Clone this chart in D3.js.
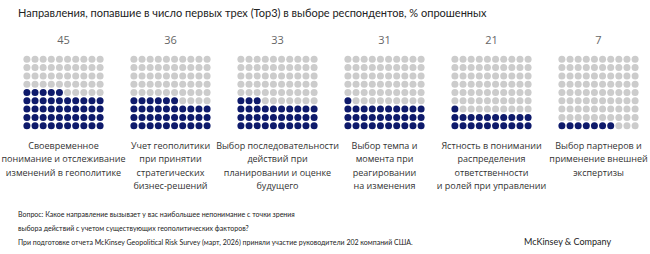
<!DOCTYPE html>
<html>
<head>
<meta charset="utf-8">
<script src="https://cdn.jsdelivr.net/npm/d3@7"></script>
<style>
  body { margin: 0; background: #fff; }
  text { font-family: "Open Sans", "Noto Sans", sans-serif; }
  .narrow { font-family: Lato, "Open Sans", sans-serif; }
</style>
</head>
<body>
<svg id="chart" width="650" height="254"></svg>
<script>
// data
const values = [45, 36, 33, 31, 21, 7];
const labels = [
  ["Своевременное", "понимание и отслеживание", "изменений в геополитике"],
  ["Учет геополитики", "при принятии", "стратегических", "бизнес-решений"],
  ["Выбор последовательности", "действий при", "планировании и оценке", "будущего"],
  ["Выбор темпа и", "момента при", "реагировании", "на изменения"],
  ["Ястность в понимании", "распределения", "ответственности", "и ролей при управлении"],
  ["Выбор партнеров и", "применение внешней", "экспертизы"]
];
const title = "Направления, попавшие в число первых трех (Top3) в выборе респондентов, % опрошенных";
const notes = [
  "Вопрос: Какое направление вызывает у вас наибольшее непонимание с точки зрения",
  "выбора действий с учетом существующих геополитических факторов?",
  "При подготовке отчета McKinsey Geopolitical Risk Survey (март, 2026) приняли участие руководители 202 компаний США."
];
const source = "McKinsey & Company";

const cols = 10, rows = 9;

const svg = d3.select("#chart");

// title
svg.append("text")
  .attr("class", "narrow")
  .attr("x", 18).attr("y", 17)
  .attr("font-size", "11px")
  .attr("fill", "#222")
  .text(title);

// panel positions
const x = d3.scaleBand().domain(d3.range(values.length)).range([10, 652]);
const cx = d3.scaleLinear().domain([0, cols - 1]).range([-36.6, 36.6]);
const cy = d3.scaleLinear().domain([0, rows - 1]).range([125.7, 59.3]);

const panels = svg.selectAll("g.panel")
  .data(values)
  .join("g")
  .attr("class", "panel")
  .attr("transform", (d, i) => `translate(${x(i) + x.bandwidth() / 2},0)`);

// value numbers
panels.append("text")
  .attr("y", 44)
  .attr("text-anchor", "middle")
  .attr("font-size", "11px")
  .attr("fill", "#666")
  .text(d => d);

// dots, filled from bottom left
panels.selectAll("circle")
  .data(v => d3.range(cols * rows).map(k => ({ k, on: k < v })))
  .join("circle")
  .attr("cx", d => cx(d.k % cols))
  .attr("cy", d => cy(Math.floor(d.k / cols)))
  .attr("r", 3.5)
  .attr("fill", d => d.on ? "#0e1a6b" : "#cccccc");

// category labels
panels.append("text")
  .attr("text-anchor", "middle")
  .attr("font-size", "9px")
  .attr("fill", "#333")
  .selectAll("tspan")
  .data((d, i) => labels[i])
  .join("tspan")
  .attr("x", 0)
  .attr("y", (d, j) => 149 + j * 13.3)
  .text(d => d);

// footnotes
svg.append("g").selectAll("text")
  .data(notes)
  .join("text")
  .attr("class", "narrow")
  .attr("x", 18)
  .attr("y", (d, i) => 217 + i * 14)
  .attr("font-size", "7px")
  .attr("fill", "#222")
  .text(d => d);

svg.append("text")
  .attr("class", "narrow")
  .attr("x", 524).attr("y", 245)
  .attr("font-size", "9px")
  .attr("fill", "#222")
  .text(source);
</script>
</body>
</html>
